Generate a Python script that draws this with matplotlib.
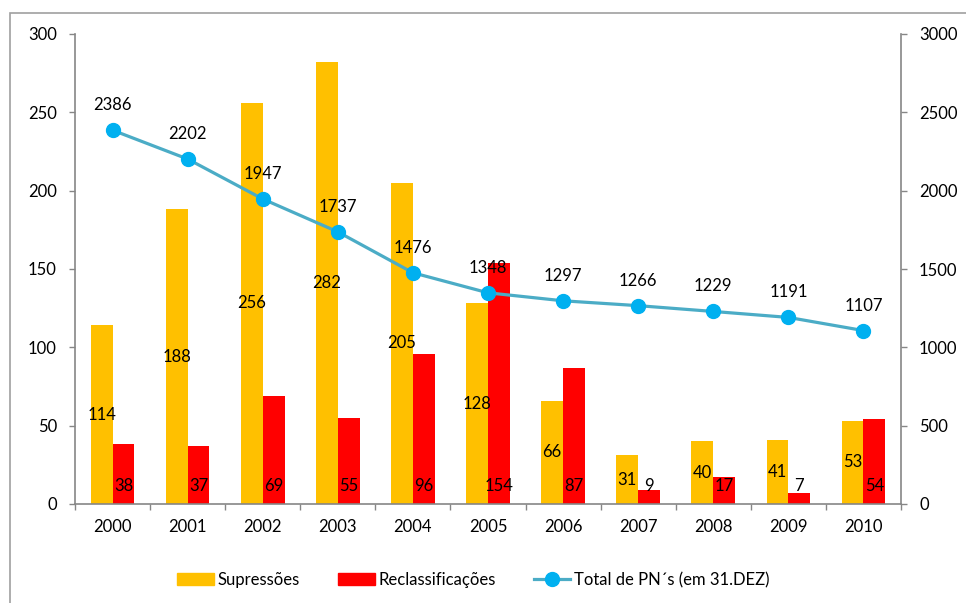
import matplotlib
matplotlib.use("Agg")
import matplotlib.pyplot as plt
import numpy as np
from matplotlib.patches import Rectangle
from matplotlib.lines import Line2D

plt.rcParams['font.family'] = ['Lato', 'DejaVu Sans']

years = ["2000", "2001", "2002", "2003", "2004", "2005", "2006", "2007", "2008", "2009", "2010"]
supressoes = [114, 188, 256, 282, 205, 128, 66, 31, 40, 41, 53]
reclass = [38, 37, 69, 55, 96, 154, 87, 9, 17, 7, 54]
total_pn = [2386, 2202, 1947, 1737, 1476, 1348, 1297, 1266, 1229, 1191, 1107]

YELLOW = "#FFC000"
RED = "#FF0000"
LINE = "#4BACC6"
MARK = "#00B0F0"
AXC = "#868686"
FS = 12

fig = plt.figure(figsize=(9.66, 6.03), dpi=100)
# outer chart border
fig.patches.append(Rectangle((10/966, -0.1), 1.2, (603-13)/603 + 0.1, transform=fig.transFigure,
                             fill=False, edgecolor="#A0A0A0", linewidth=1.2))

ax = fig.add_axes([75/966, 1-504/603, (901-75)/966, (504-34)/603])
x = np.arange(len(years))
w = 0.29
ax.bar(x - w/2, supressoes, w, color=YELLOW, label="Supressões", zorder=2)
ax.bar(x + w/2, reclass, w, color=RED, label="Reclassificações", zorder=2)

ax.set_xlim(-0.5, len(years) - 0.5)
ax.set_ylim(0, 300)
ax.set_yticks(np.arange(0, 301, 50))
ax.set_xticks(x)
ax.set_xticklabels(years)
ax.set_xticks(np.arange(-0.5, len(years)), minor=True)
ax.tick_params(axis='x', which='major', length=0, pad=11, labelsize=FS)
ax.tick_params(axis='x', which='minor', length=4, color=AXC, width=1)
ax.tick_params(axis='y', length=4, color=AXC, width=1, pad=9, labelsize=FS)
for s in ['top', 'right']:
    ax.spines[s].set_visible(False)
for s in ['left', 'bottom']:
    ax.spines[s].set_color(AXC)
    ax.spines[s].set_linewidth(1.2)

# data labels for bars
for xi, v in zip(x, supressoes):
    ax.text(xi - w/2, v/2, str(v), ha='center', va='center', fontsize=FS, zorder=5)
for xi, v in zip(x, reclass):
    ax.annotate(str(v), (xi + w/2, 0), xytext=(0, 13), textcoords='offset points',
                ha='center', va='center', fontsize=FS, zorder=5)

ax2 = ax.twinx()
ax2.set_ylim(0, 3000)
ax2.set_yticks(np.arange(0, 3001, 500))
ax2.plot(x, total_pn, color=LINE, linewidth=2.3, marker='o', markersize=10,
         markerfacecolor=MARK, markeredgecolor=MARK, zorder=4)
for xi, v in zip(x, total_pn):
    ax2.annotate(str(v), (xi, v), xytext=(0, 18), textcoords='offset points',
                 ha='center', va='center', fontsize=FS)
ax2.tick_params(axis='y', length=4, color=AXC, width=1, pad=9, labelsize=FS)
for s in ['top', 'left', 'bottom']:
    ax2.spines[s].set_visible(False)
ax2.spines['right'].set_color(AXC)
ax2.spines['right'].set_linewidth(1.2)

handles = [Rectangle((0, 0), 1, 1, color=YELLOW), Rectangle((0, 0), 1, 1, color=RED),
           Line2D([0], [0], color=LINE, linewidth=2.3, marker='o', markersize=10,
                  markerfacecolor=MARK, markeredgecolor=MARK)]
labels = ["Supressões", "Reclassificações", "Total de PN´s (em 31.DEZ)"]
fig.legend(handles, labels, loc='center', bbox_to_anchor=(0.49, 1-580/603), ncol=3,
           frameon=False, fontsize=FS, handlelength=2.2, handleheight=0.7,
           columnspacing=2.3, handletextpad=0.2)

fig.savefig("out.png", dpi=100)
